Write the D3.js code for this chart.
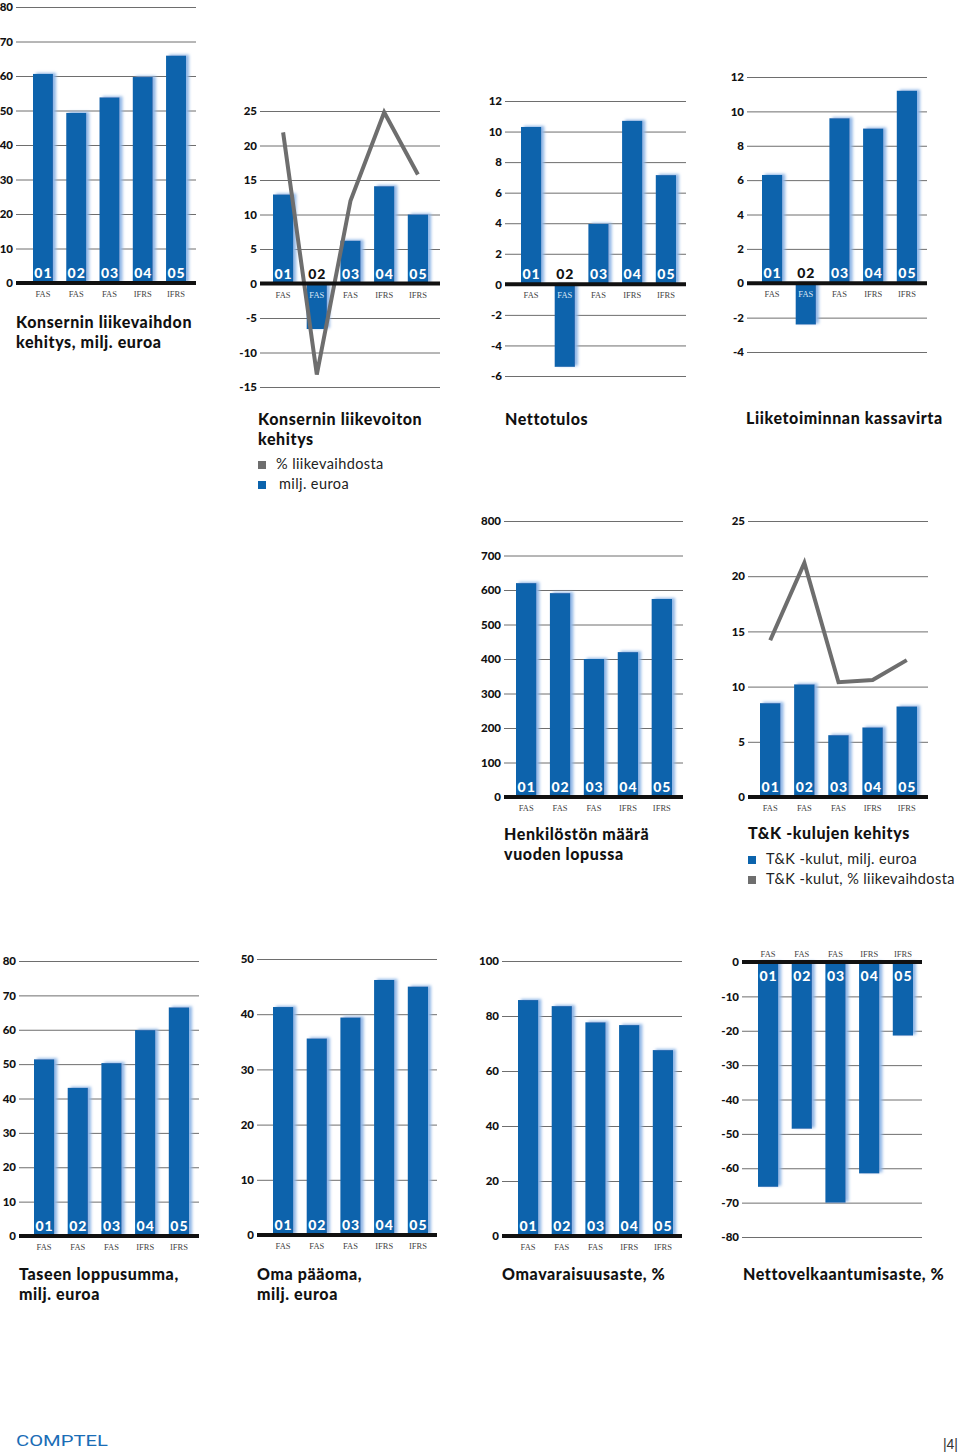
<!DOCTYPE html>
<html><head><meta charset="utf-8">
<script src="https://cdn.jsdelivr.net/npm/d3@7"></script>
<style>body{margin:0;background:#fff}svg{display:block}</style>
</head><body>
<script>
// ---------------- DATA ----------------
const years = ["01", "02", "03", "04", "05"];
const standards = ["FAS", "FAS", "FAS", "IFRS", "IFRS"];

const revenue = [60.6, 49.3, 53.8, 59.7, 65.9];
const operatingProfit = [12.9, -6.6, 6.2, 14.1, 10.0];
const operatingProfitPct = [21.9, -13.2, 12.0, 24.8, 15.8];
const netResult = [10.3, -5.4, 3.95, 10.7, 7.15];
const operatingCashFlow = [6.3, -2.4, 9.6, 9.0, 11.2];
const personnel = [620, 591, 400, 420, 574];
const rdCosts = [8.5, 10.2, 5.6, 6.3, 8.2];
const rdPct = [14.2, 21.2, 10.4, 10.6, 12.4];
const totalAssets = [51.4, 43.1, 50.3, 59.9, 66.5];
const equity = [41.3, 35.6, 39.4, 46.2, 45.0];
const equityRatio = [85.8, 83.6, 77.7, 76.7, 67.6];
const gearing = [-65.4, -48.5, -70.0, -61.5, -21.4];

const ticksRevenue = [0, 10, 20, 30, 40, 50, 60, 70, 80];
const ticksProfit = [-15, -10, -5, 0, 5, 10, 15, 20, 25];
const ticksNet = [-6, -4, -2, 0, 2, 4, 6, 8, 10, 12];
const ticksCash = [-4, -2, 0, 2, 4, 6, 8, 10, 12];
const ticksPersonnel = [0, 100, 200, 300, 400, 500, 600, 700, 800];
const ticksRd = [0, 5, 10, 15, 20, 25];
const ticksAssets = [0, 10, 20, 30, 40, 50, 60, 70, 80];
const ticksEquity = [0, 10, 20, 30, 40, 50];
const ticksRatio = [0, 20, 40, 60, 80, 100];
const ticksGearing = [-80, -70, -60, -50, -40, -30, -20, -10, 0];

const titleRevenue = ["Konsernin liikevaihdon", "kehitys, milj. euroa"];
const titleProfit = ["Konsernin liikevoiton", "kehitys"];
const legendProfit = ["% liikevaihdosta", "milj. euroa"];
const titleNet = ["Nettotulos"];
const titleCash = ["Liiketoiminnan kassavirta"];
const titlePersonnel = ["Henkilöstön määrä", "vuoden lopussa"];
const titleRd = ["T&K -kulujen kehitys"];
const legendRd = ["T&K -kulut, milj. euroa", "T&K -kulut, % liikevaihdosta"];
const titleAssets = ["Taseen loppusumma,", "milj. euroa"];
const titleEquity = ["Oma pääoma,", "milj. euroa"];
const titleRatio = ["Omavaraisuusaste, %"];
const titleGearing = ["Nettovelkaantumisaste, %"];

// ---------------- STYLE ----------------
const BLUE = "#0b63ac";
const GRAY_LINE = "#6e6e6e";
const FONT = "Lato, 'Open Sans', sans-serif";

const svg = d3.select("body").append("svg").attr("width", 960).attr("height", 1455);
const defs = svg.append("defs");
const f = defs.append("filter").attr("id", "glow")
  .attr("x", "-40%").attr("y", "-10%").attr("width", "180%").attr("height", "120%");
f.append("feGaussianBlur").attr("in", "SourceAlpha").attr("stdDeviation", 1.8).attr("result", "b");
f.append("feOffset").attr("in", "b").attr("dx", 3).attr("dy", -1).attr("result", "o");
f.append("feFlood").attr("flood-color", "#8fb6e6");
f.append("feComposite").attr("in2", "o").attr("operator", "in").attr("result", "s");
const fm = f.append("feMerge");
fm.append("feMergeNode").attr("in", "s");
fm.append("feMergeNode").attr("in", "SourceGraphic");

// ---------------- LAYOUT ----------------
const panels = [
  {values: revenue, ticks: ticksRevenue, dom: [0, 80], ys: [283, 7], gx: [16, 196], bx: [33, 186], title: titleRevenue, tx: 16, ty: 328},
  {values: operatingProfit, line: operatingProfitPct, ticks: ticksProfit, dom: [-15, 25], ys: [387, 111], gx: [260, 440], bx: [273, 428], title: titleProfit, tx: 258, ty: 425,
    legend: {items: legendProfit, colors: [GRAY_LINE, BLUE], x: 258, y: 469, textX: [276, 279]}},
  {values: netResult, ticks: ticksNet, dom: [-6, 12], ys: [376, 101], gx: [505, 686], bx: [521, 676], title: titleNet, tx: 505, ty: 425},
  {values: operatingCashFlow, ticks: ticksCash, dom: [-4, 12], ys: [352, 77], gx: [747, 927], bx: [762, 917], title: titleCash, tx: 746, ty: 424},
  {values: personnel, ticks: ticksPersonnel, dom: [0, 800], ys: [797, 521], gx: [504, 683], bx: [516, 672], title: titlePersonnel, tx: 504, ty: 840},
  {values: rdCosts, line: rdPct, ticks: ticksRd, dom: [0, 25], ys: [797, 521], gx: [748, 928], bx: [760, 917], title: titleRd, tx: 748, ty: 839,
    legend: {items: legendRd, colors: [BLUE, GRAY_LINE], x: 748, y: 864, textX: [766, 766]}},
  {values: totalAssets, ticks: ticksAssets, dom: [0, 80], ys: [1236, 961], gx: [19, 199], bx: [34, 189], title: titleAssets, tx: 19, ty: 1280},
  {values: equity, ticks: ticksEquity, dom: [0, 50], ys: [1235, 959], gx: [257, 437], bx: [273, 428], title: titleEquity, tx: 257, ty: 1280},
  {values: equityRatio, ticks: ticksRatio, dom: [0, 100], ys: [1236, 961], gx: [502, 682], bx: [518, 673], title: titleRatio, tx: 502, ty: 1280},
  {values: gearing, ticks: ticksGearing, dom: [-80, 0], ys: [1237, 962], gx: [742, 922], bx: [758, 913], title: titleGearing, tx: 743, ty: 1280, inverted: true}
];

panels.forEach(p => {
  const g = svg.append("g");
  const y = d3.scaleLinear().domain(p.dom).range(p.ys);
  const x = d3.scaleBand().domain(years).range(p.bx).paddingInner(0.4).paddingOuter(0);
  const y0 = y(0);

  // gridlines + tick labels via d3 axis
  const ax = g.append("g").attr("transform", `translate(${p.gx[0]},0)`)
    .call(d3.axisLeft(y).tickValues(p.ticks).tickSize(-(p.gx[1] - p.gx[0])).tickPadding(3).tickFormat(d => String(d)));
  ax.select(".domain").remove();
  ax.selectAll(".tick line").attr("stroke", GRAY_LINE).attr("stroke-width", 1);
  ax.selectAll(".tick text").attr("fill", "#111").attr("font-family", FONT)
    .attr("font-weight", 900).attr("font-size", 11.5);

  // bars
  g.selectAll("rect.bar").data(p.values).join("rect").attr("class", "bar")
    .attr("x", (d, i) => x(years[i]))
    .attr("width", x.bandwidth())
    .attr("y", d => d >= 0 ? y(d) : y0)
    .attr("height", d => Math.abs(y(d) - y0))
    .attr("fill", BLUE).attr("filter", "url(#glow)");

  // line series
  if (p.line) {
    const ln = d3.line().x((d, i) => x(years[i]) + x.bandwidth() / 2).y(d => y(d));
    g.append("path").attr("d", ln(p.line)).attr("fill", "none")
      .attr("stroke", GRAY_LINE).attr("stroke-width", 4).attr("stroke-linejoin", "miter");
  }

  // zero axis
  g.append("line").attr("x1", p.gx[0]).attr("x2", p.gx[1]).attr("y1", y0).attr("y2", y0)
    .attr("stroke", "#111").attr("stroke-width", 4);

  // year labels
  g.selectAll("text.yr").data(p.values).join("text").attr("class", "yr")
    .attr("x", (d, i) => x(years[i]) + x.bandwidth() / 2 + 0.5)
    .attr("y", p.inverted ? y0 + 19 : y0 - 5)
    .attr("text-anchor", "middle").attr("font-family", FONT).attr("font-weight", 900)
    .attr("font-size", 14).attr("letter-spacing", 1)
    .attr("fill", d => (p.inverted || d >= 0) ? "#fff" : "#111")
    .text((d, i) => years[i]);

  // standard labels
  g.selectAll("text.std").data(p.values).join("text").attr("class", "std")
    .attr("x", (d, i) => x(years[i]) + x.bandwidth() / 2)
    .attr("y", p.inverted ? y0 - 5 : y0 + 14)
    .attr("text-anchor", "middle").attr("font-family", "'Liberation Serif', serif")
    .attr("font-size", 8.5)
    .attr("fill", d => (!p.inverted && d < 0) ? "#dbe7f5" : "#444")
    .text((d, i) => standards[i]);

  // title
  g.append("text").attr("x", p.tx).attr("y", p.ty).attr("font-family", FONT)
    .attr("font-weight", 900).attr("font-size", 16).attr("letter-spacing", 0.6).attr("fill", "#111")
    .selectAll("tspan").data(p.title).join("tspan")
    .attr("x", p.tx).attr("dy", (d, i) => i === 0 ? 0 : 19.5).text(d => d);

  // legend
  if (p.legend) {
    const L = p.legend;
    L.items.forEach((t, i) => {
      g.append("rect").attr("x", L.x).attr("y", L.y + i * 20 - 8).attr("width", 8).attr("height", 8).attr("fill", L.colors[i]);
      g.append("text").attr("x", L.textX[i]).attr("y", L.y + i * 20).attr("font-family", FONT)
        .attr("font-size", 14.5).attr("letter-spacing", 0.4).attr("fill", "#222").text(t);
    });
  }
});

// footer
svg.append("text").attr("x", 16).attr("y", 1446).attr("font-family", "Roboto, sans-serif")
  .attr("font-size", 15).attr("fill", "#1a6db6").attr("textLength", 92).attr("lengthAdjust", "spacingAndGlyphs")
  .text("COMPTEL");
svg.append("text").attr("x", 958).attr("y", 1449).attr("text-anchor", "end")
  .attr("font-family", "'Liberation Sans', sans-serif").attr("font-size", 14).attr("fill", "#333").text("|4|");
</script>
</body></html>
